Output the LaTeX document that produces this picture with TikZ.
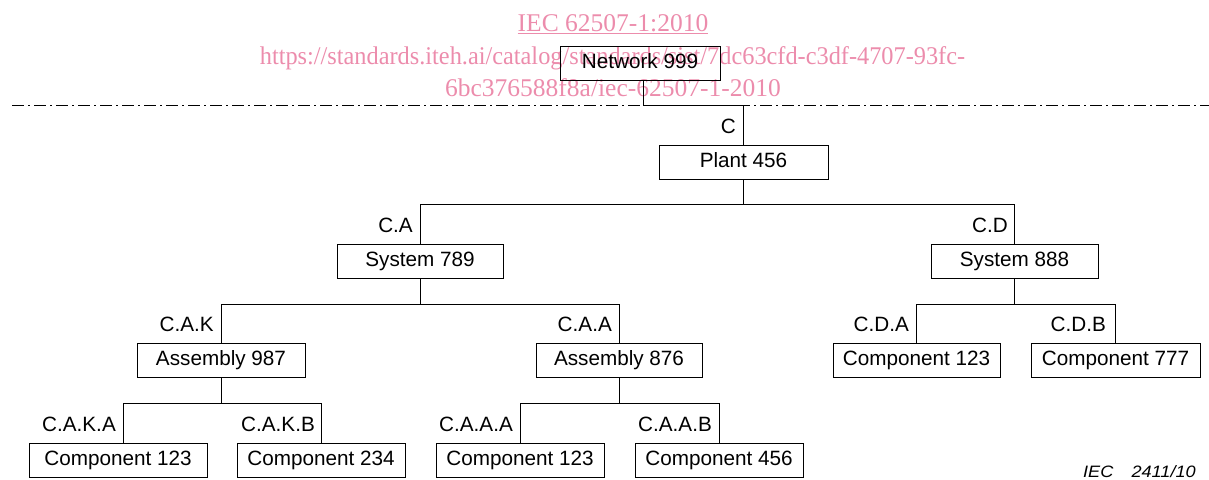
\documentclass[tikz,border=0pt]{standalone}
\usepackage{fontspec}
\setmainfont{Liberation Sans}
\newfontfamily\wmfont{Liberation Serif}
\definecolor{wmpink}{RGB}{236,140,172}
\begin{document}
\begin{tikzpicture}[x=1pt,y=-1pt,
  box/.style={draw,line width=1pt,minimum height=34pt,inner sep=0pt,
    text height=15pt,text depth=4pt,font=\fontsize{20.7}{24}\selectfont},
  lbl/.style={anchor=base east,inner sep=0pt,font=\fontsize{20.7}{24}\selectfont},
  conn/.style={line width=1pt},
  wm/.style={text=wmpink,inner sep=0pt,font=\wmfont\fontsize{25.5}{30}\selectfont}]
\useasboundingbox (0,0) rectangle (1209,479);
% watermark
\node[wm,anchor=base] (wm1) at (613,31) {\underline{IEC 62507-1:2010}};
\node[wm,anchor=base] (wm2) at (612.5,64) {\scalebox{0.954}[1]{https://standards.iteh.ai/catalog/standards/sist/7dc63cfd-c3df-4707-93fc-}};
\node[wm,anchor=base] (wm3) at (613,96) {6bc376588f8a/iec-62507-1-2010};
% separator
\coordinate (sepL) at (12,105);
\coordinate (sepR) at (1209,105);
\draw[line width=1pt,dash pattern=on 12pt off 4pt on 2pt off 4pt] (sepL) -- (sepR);
% boxes
\node[box,minimum width=160pt] (net) at (640,63) {Network 999};
\node[box,minimum width=169pt] (plant) at (743.5,162) {Plant 456};
\node[box,minimum width=166pt] (s789) at (420,261) {System 789};
\node[box,minimum width=167pt] (s888) at (1014.5,261) {System 888};
\node[box,minimum width=168pt] (a987) at (221,360) {Assembly 987};
\node[box,minimum width=166pt] (a876) at (619,360) {Assembly 876};
\node[box,minimum width=167pt] (cda) at (916.5,360) {Component 123};
\node[box,minimum width=169pt] (cdb) at (1115.5,360) {Component 777};
\node[box,minimum width=178pt] (caka) at (118,460) {Component 123};
\node[box,minimum width=168pt] (cakb) at (321,460) {Component 234};
\node[box,minimum width=168pt] (caaa) at (520,460) {Component 123};
\node[box,minimum width=168pt] (caab) at (719,460) {Component 456};
% labels
\node[lbl] (lC) at (736,133) {C};
\node[lbl] (lCA) at (413,232) {C.A};
\node[lbl] (lCD) at (1008,232) {C.D};
\node[lbl] (lCAK) at (214,331) {C.A.K};
\node[lbl] (lCAA) at (612,331) {C.A.A};
\node[lbl] (lCDA) at (909,331) {C.D.A};
\node[lbl] (lCDB) at (1106,331) {C.D.B};
\node[lbl] (lCAKA) at (116,431) {C.A.K.A};
\node[lbl] (lCAKB) at (315,431) {C.A.K.B};
\node[lbl] (lCAAA) at (513,431) {C.A.A.A};
\node[lbl] (lCAAB) at (712,431) {C.A.A.B};
% connectors
\draw[conn] ([xshift=3pt]net.south) -- ([xshift=3pt]net.south |- sepL) -| (plant.north);
\coordinate (b1) at (0,204);
\coordinate (b2) at (0,304);
\coordinate (b3) at (0,403);
\draw[conn] (plant.south) -- (plant.south |- b1);
\draw[conn] (s789.north |- b1) -- (s789.north);
\draw[conn] (s888.north |- b1) -- (s888.north);
\draw[conn] (s789.north |- b1) -- (s888.north |- b1);
\draw[conn] (s789.south) -- (s789.south |- b2);
\draw[conn] (a987.north |- b2) -- (a987.north);
\draw[conn] (a876.north |- b2) -- (a876.north);
\draw[conn] (a987.north |- b2) -- (a876.north |- b2);
\draw[conn] (s888.south) -- (s888.south |- b2);
\draw[conn] (cda.north |- b2) -- (cda.north);
\draw[conn] (cdb.north |- b2) -- (cdb.north);
\draw[conn] (cda.north |- b2) -- (cdb.north |- b2);
\draw[conn] (a987.south) -- (a987.south |- b3);
\draw[conn] ([xshift=5pt]caka.north |- b3) -- ([xshift=5pt]caka.north);
\draw[conn] (cakb.north |- b3) -- (cakb.north);
\draw[conn] ([xshift=5pt]caka.north |- b3) -- (cakb.north |- b3);
\draw[conn] (a876.south) -- (a876.south |- b3);
\draw[conn] (caaa.north |- b3) -- (caaa.north);
\draw[conn] (caab.north |- b3) -- (caab.north);
\draw[conn] (caaa.north |- b3) -- (caab.north |- b3);
% figure id
\node[anchor=base east,inner sep=0pt,font=\itshape\fontsize{16.5}{20}\selectfont] (fig) at (1196,477) {\scalebox{1.1}[1]{IEC\hspace{1em}2411/10}};
\end{tikzpicture}
\end{document}
